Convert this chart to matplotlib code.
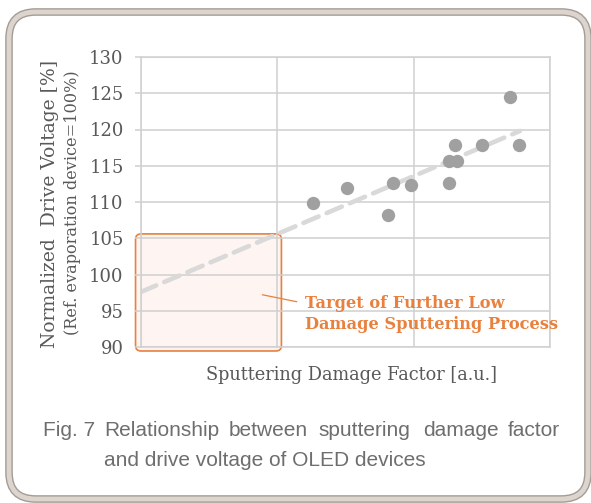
import numpy as np
import matplotlib
import matplotlib.pyplot as plt
from matplotlib.patches import FancyBboxPatch

matplotlib.use('Agg')

# dati (fattore di danno, tensione normalizzata %)
damage_factor = [1.26, 1.51, 1.81, 1.85, 1.98, 2.26, 2.26, 2.32, 2.30, 2.50, 2.71, 2.77]
drive_voltage = [109.9, 111.9, 108.2, 112.6, 112.3, 112.6, 115.6, 115.6, 117.8, 117.8, 124.5, 117.8]

# linea di tendenza (estremi)
trend_x = [0.0, 2.78]
trend_y = [97.6, 119.8]

# zona obiettivo
target_x = [-0.04, 1.03]
target_y = [89.45, 105.6]

y_ticks = [90, 95, 100, 105, 110, 115, 120, 125, 130]
x_grid = [0, 1, 2, 3]

W, H = 591, 503
fig = plt.figure(figsize=(W / 100, H / 100), dpi=100)

def px(x, y):
    # coordinate pixel -> frazione figura
    return x / W, 1 - y / H

# cornice arrotondata
frame = FancyBboxPatch(px(9, 499), 579 / W, 487 / H,
                       boxstyle="round,pad=0,rounding_size=0.045",
                       mutation_aspect=W / H,
                       transform=fig.transFigure, facecolor='white',
                       edgecolor='#a39c96', linewidth=5.5, zorder=-2)
fig.patches.append(frame)
frame2 = FancyBboxPatch(px(9, 499), 579 / W, 487 / H,
                        boxstyle="round,pad=0,rounding_size=0.045",
                        mutation_aspect=W / H,
                        transform=fig.transFigure, facecolor='none',
                        edgecolor='#ddd5cd', linewidth=3.5, zorder=-1)
fig.patches.append(frame2)

ax = fig.add_axes([141 / W, 1 - 347 / H, 409 / W, 290 / H])
ax.set_facecolor('none')
ax.set_xlim(0, 3)
ax.set_ylim(90, 130)

serif = 'DejaVu Serif'
txt_col = '#595959'
grid_col = '#d0d0d0'
ax.set_yticks(y_ticks)
ax.set_xticks(x_grid)
ax.set_xticklabels([])
ax.tick_params(axis='x', length=0)
ax.tick_params(axis='y', length=4.5, width=1.1, color=grid_col, pad=8,
               labelsize=13, labelcolor=txt_col)
for lab in ax.get_yticklabels():
    lab.set_fontfamily(serif)
ax.grid(True, color=grid_col, linewidth=1.1, zorder=0)
for sp in ax.spines.values():
    sp.set_color(grid_col)
    sp.set_linewidth(1.1)

# zona obiettivo (riquadro arancione)
orange = '#e8803e'
ax.add_patch(FancyBboxPatch((target_x[0], target_y[0]),
                            target_x[1] - target_x[0], target_y[1] - target_y[0],
                            boxstyle="round,pad=0,rounding_size=0.04",
                            mutation_aspect=18.8,
                            facecolor=(0.98, 0.55, 0.40, 0.09), edgecolor=orange,
                            linewidth=1.2, clip_on=False, zorder=1))

# linea di tendenza tratteggiata
ax.plot(trend_x, trend_y, color='#d9d9d9', linewidth=3.3,
        linestyle=(0, (3.6, 1.9)), dash_capstyle='round', zorder=2)

# punti
ax.plot(damage_factor, drive_voltage, 'o', color='#a0a0a0', markersize=9.6,
        markeredgewidth=0, zorder=3)

# annotazione
ax.plot([0.892, 1.141], [97.2, 96.25], color=orange, linewidth=0.9, zorder=4)
ax.text(1.20, 94.5, 'Target of Further Low\nDamage Sputtering Process',
        color=orange, fontsize=11.7, fontweight='bold', family=serif,
        va='center', ha='left', linespacing=1.3, zorder=5)

# etichette assi
fig.text(*px(50, 204), 'Normalized  Drive Voltage [%]', rotation=90,
         ha='center', va='center', fontsize=13.5, color=txt_col, family=serif)
fig.text(*px(73, 203), '(Ref. evaporation device=100%)', rotation=90,
         ha='center', va='center', fontsize=11.6, color=txt_col, family=serif)
fig.text(*px(352, 375), 'Sputtering Damage Factor [a.u.]',
         ha='center', va='center', fontsize=12.8, color=txt_col, family=serif)

# didascalia (giustificata)
cap_col = '#6e6e6e'
cap_words = ['Fig. 7', 'Relationship', 'between', 'sputtering', 'damage', 'factor']
cap_x = [43, 104, 229, 318, 423, 508]
for w, x in zip(cap_words, cap_x):
    fig.text(*px(x, 436.5), w, ha='left', va='baseline', fontsize=15,
             color=cap_col, family='Liberation Sans')
fig.text(*px(104, 466), 'and drive voltage of OLED devices', ha='left',
         va='baseline', fontsize=15, color=cap_col, family='Liberation Sans')

fig.savefig('out.png', dpi=100)
plt.close(fig)
